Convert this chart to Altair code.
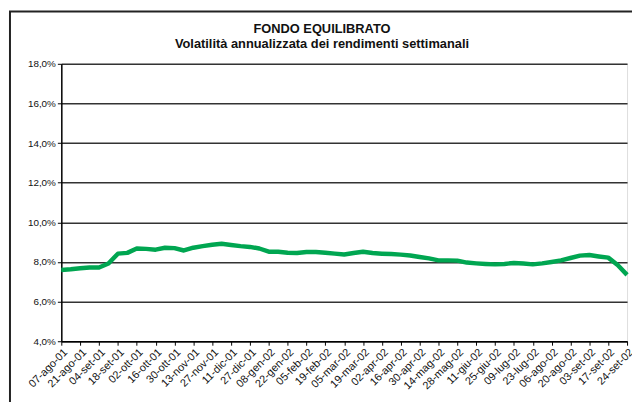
import json
import altair as alt
import pandas as pd

title_text = "FONDO EQUILIBRATO"
subtitle_text = "Volatilità annualizzata dei rendimenti settimanali"

# weekly annualised volatility (%)
values = [
    7.60, 7.63, 7.68, 7.72, 7.72, 7.92, 8.42, 8.46, 8.68, 8.66,
    8.62, 8.72, 8.70, 8.58, 8.72, 8.80, 8.87, 8.92, 8.86, 8.80,
    8.76, 8.68, 8.52, 8.52, 8.47, 8.45, 8.50, 8.50, 8.47, 8.42,
    8.38, 8.45, 8.52, 8.45, 8.42, 8.40, 8.37, 8.33, 8.25, 8.18,
    8.08, 8.08, 8.07, 7.97, 7.93, 7.90, 7.88, 7.90, 7.95, 7.92,
    7.88, 7.93, 8.00, 8.08, 8.20, 8.32, 8.35, 8.28, 8.22, 7.85,
    7.35,
]

tick_labels = [
    "07-ago-01", "21-ago-01", "04-set-01", "18-set-01", "02-ott-01",
    "16-ott-01", "30-ott-01", "13-nov-01", "27-nov-01", "11-dic-01",
    "27-dic-01", "08-gen-02", "22-gen-02", "05-feb-02", "19-feb-02",
    "05-mar-02", "19-mar-02", "02-apr-02", "16-apr-02", "30-apr-02",
    "14-mag-02", "28-mag-02", "11-giu-02", "25-giu-02", "09-lug-02",
    "23-lug-02", "06-ago-02", "20-ago-02", "03-set-02", "17-set-02",
    "24-set-02",
]

y_ticks = [4, 6, 8, 10, 12, 14, 16, 18]

df = pd.DataFrame({"i": list(range(len(values))), "v": values})
n_last = len(values) - 1

FONT = "Liberation Sans"

line = alt.Chart(df).mark_line(color="#00A651", strokeWidth=4.5, strokeJoin="round").encode(
    x=alt.X(
        "i:Q",
        scale=alt.Scale(domain=[0, n_last], nice=False, zero=False),
        axis=alt.Axis(
            values=list(range(0, n_last + 1, 2)),
            labelExpr=json.dumps(tick_labels) + "[round(datum.value/2)]",
            labelAngle=315,
            labelAlign="right",
            labelBaseline="top",
            labelFontSize=11,
            labelFont=FONT,
            labelColor="#111",
            labelPadding=1,
            labelOverlap=False,
            labelFlush=False,
            tickSize=4,
            tickColor="#000",
            domainColor="#000",
            domainWidth=1.5,
            grid=False,
            title=None,
        ),
    ),
    y=alt.Y(
        "v:Q",
        scale=alt.Scale(domain=[4, 18], nice=False, zero=False),
        axis=alt.Axis(
            values=y_ticks,
            labelExpr="replace(format(datum.value, '.1f'), '.', ',') + '%'",
            labelFontSize=10,
            labelFont=FONT,
            labelColor="#111",
            labelPadding=2,
            tickSize=4,
            tickColor="#000",
            domainColor="#000",
            domainWidth=1.5,
            grid=True,
            gridColor="#333",
            gridWidth=1.5,
            title=None,
        ),
    ),
)

frame = alt.Chart(pd.DataFrame({"f": [0]})).mark_rect(
    fillOpacity=0, stroke="#222", strokeWidth=2
).encode(
    x=alt.value(-52), y=alt.value(-53), x2=alt.value(900), y2=alt.value(700)
)

title1 = alt.Chart(pd.DataFrame({"t": [title_text]})).mark_text(
    font=FONT, fontSize=13, fontWeight="bold", align="center", baseline="alphabetic", color="#111"
).encode(x=alt.value(264), y=alt.value(-31), text="t:N")

title2 = alt.Chart(pd.DataFrame({"t": [subtitle_text]})).mark_text(
    font=FONT, fontSize=13, fontWeight="bold", align="center", baseline="alphabetic", color="#111"
).encode(x=alt.value(264), y=alt.value(-16), text="t:N")

chart = alt.layer(frame, line, title1, title2).properties(
    width=573,
    height=281,
    autosize=alt.AutoSizeParams(type="none"),
    padding={"left": 54, "top": 54, "right": 5, "bottom": 59},
).configure_view(stroke="#333", strokeWidth=2).configure(background="white")

chart.save("out.html", embed_options={"renderer": "svg", "actions": False})
